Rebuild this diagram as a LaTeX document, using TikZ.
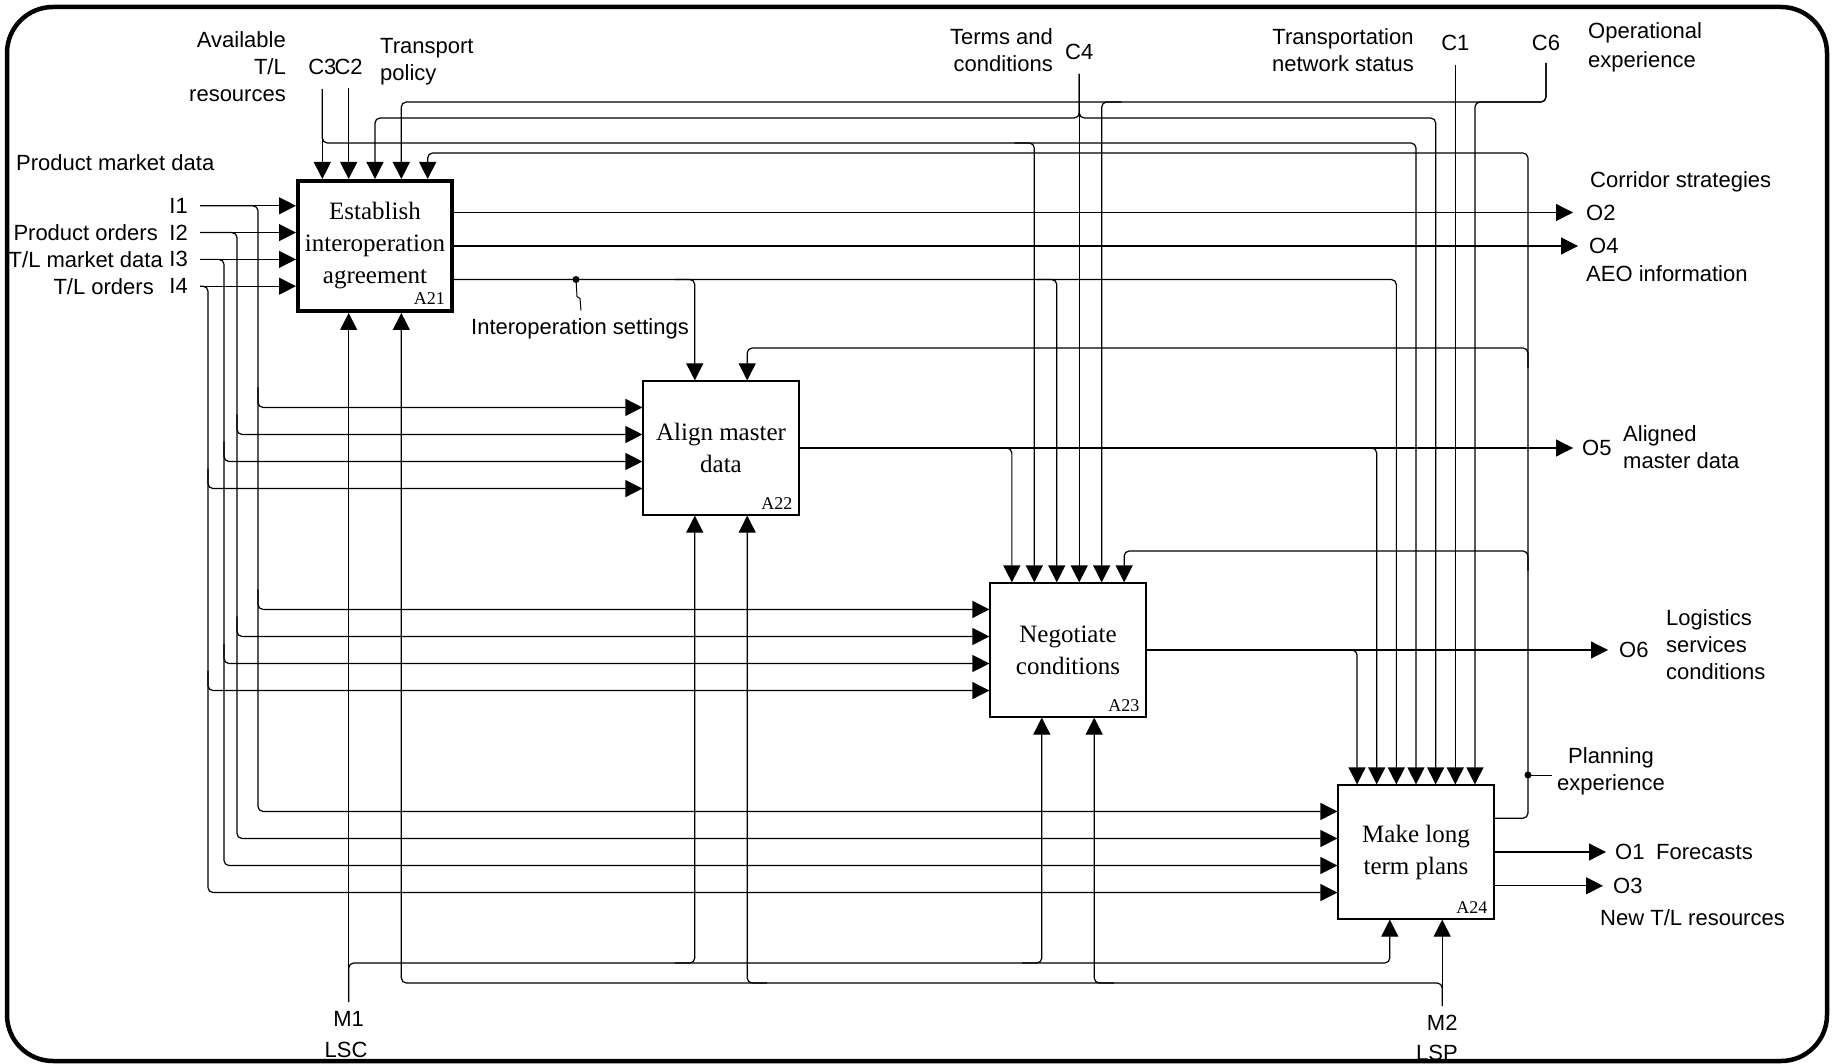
\documentclass[tikz,border=0pt]{standalone}
\usepackage{fontspec}
\setmainfont{Liberation Sans}
\newfontfamily\boxfont{Liberation Serif}
\usetikzlibrary{arrows.meta,calc}
\tikzset{
  flow/.style={line width=1.2pt,rounded corners=5pt},
  tip/.style={-{Triangle[length=17pt,width=17pt]}},
  act/.style={draw,line width=1.2pt,minimum width=156pt,minimum height=134pt,inner sep=0pt,
    align=center,font=\boxfont\fontsize{25}{32}\selectfont},
  actid/.style={anchor=south east,inner sep=0pt,font=\boxfont\fontsize{18}{18}\selectfont},
  lbl/.style={inner sep=0pt},
}

\begin{document}
\begin{tikzpicture}[x=1pt,y=-1pt,font=\fontsize{22}{27}\selectfont]
  \useasboundingbox (0,0) rectangle (1834,1064);
  % activity boxes
  \node[act,line width=4pt,minimum width=154pt,minimum height=130pt] (a21) at (375,246) {Establish\\interoperation\\agreement};
  \node[act] (a22) at (721,448) {Align master\\data};
  \node[act] (a23) at (1068,650) {Negotiate\\conditions};
  \node[act] (a24) at (1416,852) {Make long\\term plans};
  \node[actid] (a21id) at ($(a21.south east)+(-9,-8)$) {A21};
  \foreach \b/\t in {a22/A22,a23/A23,a24/A24}
    \node[actid] (\b id) at ($(\b.south east)+(-7,-6)$) {\t};
  % ports: box / controls / outputs
  \foreach \b/\nc/\no in {a21/5/3,a22/2/1,a23/6/1,a24/7/3}{
    \foreach \k in {1,...,\nc}{
      \pgfmathsetmacro{\tpos}{\k/(\nc+1)}
      \coordinate (\b-c\k) at ($(\b.north west)!\tpos!(\b.north east)$);
    }
    \foreach \k in {1,...,4}{
      \pgfmathsetmacro{\tpos}{\k/5}
      \coordinate (\b-i\k) at ($(\b.north west)!\tpos!(\b.south west)$);
    }
    \foreach \k in {1,...,\no}{
      \pgfmathsetmacro{\tpos}{\k/(\no+1)}
      \coordinate (\b-o\k) at ($(\b.north east)!\tpos!(\b.south east)$);
    }
    \foreach \k in {1,2}{
      \pgfmathsetmacro{\tpos}{\k/3}
      \coordinate (\b-m\k) at ($(\b.south west)!\tpos!(\b.south east)$);
    }
  }
  % bus levels and free ends
  \coordinate (busC6) at (0,102);
  \coordinate (busC4) at (0,118);
  \coordinate (busC3) at (0,143);
  \coordinate (busPE) at (0,153);
  \coordinate (busPE2) at (0,348);
  \coordinate (busPE3) at (0,551);
  \coordinate (busM1) at (0,963);
  \coordinate (busM2) at (0,983);
  \coordinate (peX) at (1528,0);
  \coordinate (c3end) at (a21-c1 |- 0,89);
  \coordinate (c2end) at (a21-c2 |- 0,88);
  \coordinate (c4end) at (a23-c4 |- 0,74);
  \coordinate (c1end) at (a24-c6 |- 0,65);
  \coordinate (c6end) at (1546,63);
  \coordinate (m1end) at (a21-m1 |- 0,1002);
  \coordinate (m2end) at (a24-m2 |- 0,1006);
  \coordinate (o2tip) at (1573,0 |- a21-o1);
  \coordinate (o4tip) at (1578,0 |- a21-o2);
  \coordinate (o5tip) at (1573,0 |- a22-o1);
  \coordinate (o6tip) at (1608,0 |- a23-o1);
  \coordinate (o1tip) at (1606,0 |- a24-o2);
  \coordinate (o3tip) at (1603,0 |- a24-o3);
  \coordinate (isdot) at (576,0 |- a21-o3);
  \coordinate (pedot) at (peX |- 0,775);
  % controls
  \draw[flow,tip] (c3end) -- (a21-c1);
  \draw[flow,tip] (c3end) |- (a24-c4 |- busC3) -- (a24-c4);
  \draw[flow,tip] ($(a23-c2 |- busC3)+(-20,0)$) -- (a23-c2 |- busC3) -- (a23-c2);
  \draw[flow,tip] (c2end) -- (a21-c2);
  \draw[flow,tip] (c4end) -- (a23-c4);
  \draw[flow,tip] (c4end) |- (a21-c3 |- busC4) -- (a21-c3);
  \draw[flow,tip] (c4end) |- (a24-c5 |- busC4) -- (a24-c5);
  \draw[flow,tip] (c1end) -- (a24-c6);
  \draw[flow,tip] (c6end) |- (a21-c4 |- busC6) -- (a21-c4);
  \draw[flow,tip] (c6end) |- (a24-c7 |- busC6) -- (a24-c7);
  \draw[flow,tip] ($(a23-c5 |- busC6)+(20,0)$) -- (a23-c5 |- busC6) -- (a23-c5);
  % planning experience feedback
  \draw[flow,tip] (a24-o1) -| (peX |- busPE) -- (a21-c5 |- busPE) -- (a21-c5);
  \draw[flow,tip] ($(peX |- busPE2)+(0,20)$) -- (peX |- busPE2) -- (a22-c2 |- busPE2) -- (a22-c2);
  \draw[flow,tip] ($(peX |- busPE3)+(0,20)$) -- (peX |- busPE3) -- (a23-c6 |- busPE3) -- (a23-c6);
  \fill (pedot) circle[radius=3.5pt];
  \draw[line width=1pt] (pedot) -- ++(24,0);
  % interoperation settings
  \draw[flow,tip] (a21-o3) -- (a24-c3 |- a21-o3) -- (a24-c3);
  \draw[flow,tip] ($(a22-c1 |- a21-o3)+(-20,0)$) -- (a22-c1 |- a21-o3) -- (a22-c1);
  \draw[flow,tip] ($(a23-c3 |- a21-o3)+(-20,0)$) -- (a23-c3 |- a21-o3) -- (a23-c3);
  \fill (isdot) circle[radius=3.5pt];
  \draw[line width=1pt] (isdot) -- ++(1,17) -- ++(3,2) -- ++(1,12);
  % outputs
  \draw[flow,tip] (a21-o1) -- (o2tip);
  \draw[flow,tip] (a21-o2) -- (o4tip);
  \draw[flow,tip] (a22-o1) -- (o5tip);
  \draw[flow,tip] ($(a23-c1 |- a22-o1)+(-20,0)$) -- (a23-c1 |- a22-o1) -- (a23-c1);
  \draw[flow,tip] ($(a24-c2 |- a22-o1)+(-20,0)$) -- (a24-c2 |- a22-o1) -- (a24-c2);
  \draw[flow,tip] (a23-o1) -- (o6tip);
  \draw[flow,tip] ($(a24-c1 |- a23-o1)+(-20,0)$) -- (a24-c1 |- a23-o1) -- (a24-c1);
  \draw[flow,tip] (a24-o2) -- (o1tip);
  \draw[flow,tip] (a24-o3) -- (o3tip);
  % inputs I1..I4 / trunk x
  \foreach \k/\vx in {1/258,2/237,3/224,4/208}{
    \coordinate (in\k) at (200,0 |- a21-i\k);
    \draw[flow,tip] (in\k) -- (a21-i\k);
    \draw[flow,tip] (in\k) -- (\vx,0 |- a21-i\k) -- (\vx,0 |- a24-i\k) -- (a24-i\k);
    \draw[flow,tip] ($(\vx,0 |- a22-i\k)+(0,-20)$) -- (\vx,0 |- a22-i\k) -- (a22-i\k);
    \draw[flow,tip] ($(\vx,0 |- a23-i\k)+(0,-20)$) -- (\vx,0 |- a23-i\k) -- (a23-i\k);
    \node[lbl,anchor=east] (lbli\k) at (188,0 |- a21-i\k) {I\k};
  }
  % mechanisms
  \draw[flow,tip] (m1end) -- (a21-m1);
  \draw[flow,tip] (m1end) |- (a24-m1 |- busM1) -- (a24-m1);
  \draw[flow,tip] ($(a22-m1 |- busM1)+(-20,0)$) -- (a22-m1 |- busM1) -- (a22-m1);
  \draw[flow,tip] ($(a23-m1 |- busM1)+(-20,0)$) -- (a23-m1 |- busM1) -- (a23-m1);
  \draw[flow,tip] (m2end) -- (a24-m2);
  \draw[flow,tip] (m2end) |- (a21-m2 |- busM2) -- (a21-m2);
  \draw[flow,tip] ($(a22-m2 |- busM2)+(20,0)$) -- (a22-m2 |- busM2) -- (a22-m2);
  \draw[flow,tip] ($(a23-m2 |- busM2)+(20,0)$) -- (a23-m2 |- busM2) -- (a23-m2);
  % labels
  \node[lbl,anchor=east,align=right] (tlres) at (286,67) {Available\\T/L\\resources};
  \node[lbl] (c3lbl) at (a21-c1 |- 0,67) {C3};
  \node[lbl] (c2lbl) at (a21-c2 |- 0,67) {C2};
  \node[lbl,anchor=west,align=left] (tpol) at (380,62) {Transport\\policy};
  \node[lbl,anchor=east,align=right] (tandc) at (1053,50) {Terms and\\conditions};
  \node[lbl] (c4lbl) at (a23-c4 |- 0,52) {C4};
  \node[lbl,align=center] (tns) at (1343,50) {Transportation\\network status};
  \node[lbl] (c1lbl) at (a24-c6 |- 0,43) {C1};
  \node[lbl] (c6lbl) at (c6end |- 0,43) {C6};
  \node[lbl,anchor=west,align=left,font=\fontsize{22}{29}\selectfont] (opexp) at (1588,47) {Operational\\experience};
  \node[lbl,anchor=west] (pmd) at (16,163) {Product market data};
  \node[lbl,anchor=east] (porders) at (158,0 |- a21-i2) {Product orders};
  \node[lbl,anchor=east] (tlmkt) at (163,0 |- a21-i3) {T/L market data};
  \node[lbl,anchor=east] (tlord) at (154,0 |- a21-i4) {T/L orders};
  \node[lbl,anchor=west] (corr) at (1590,182) {Corridor strategies};
  \node[lbl,anchor=west] (o2lbl) at ($(o2tip)+(13,0)$) {O2};
  \node[lbl,anchor=west] (o4lbl) at ($(o4tip)+(11,0)$) {O4};
  \node[lbl,anchor=west] (aeo) at (1586,274) {AEO information};
  \node[lbl] (islbl) at (580,329) {Interoperation settings};
  \node[lbl,anchor=west] (o5lbl) at ($(o5tip)+(9,0)$) {O5};
  \node[lbl,anchor=west,align=left] (amd) at (1623,447) {Aligned\\master data};
  \node[lbl,anchor=west] (o6lbl) at ($(o6tip)+(11,0)$) {O6};
  \node[lbl,anchor=west,align=left] (lsvc) at (1666,645) {Logistics\\services\\conditions};
  \node[lbl,align=center] (plexp) at (1611,771) {Planning\\experience};
  \node[lbl,anchor=west] (o1lbl) at ($(o1tip)+(9,0)$) {O1};
  \node[lbl,anchor=west] (fcst) at (1656,0 |- o1lbl) {Forecasts};
  \node[lbl,anchor=west] (o3lbl) at ($(o3tip)+(10,0)$) {O3};
  \node[lbl,anchor=west] (newtl) at (1600,918) {New T/L resources};
  \node[lbl] (m1lbl) at (m1end |- 0,1019) {M1};
  \node[lbl] (lsclbl) at (346,1050) {LSC};
  \node[lbl] (m2lbl) at (m2end |- 0,1023) {M2};
  \node[lbl] (lsplbl) at (1437,1053) {LSP};
  % frame
  \draw[line width=4.5pt,rounded corners=46pt] (7,7) rectangle (1827,1061);
\end{tikzpicture}
\end{document}
